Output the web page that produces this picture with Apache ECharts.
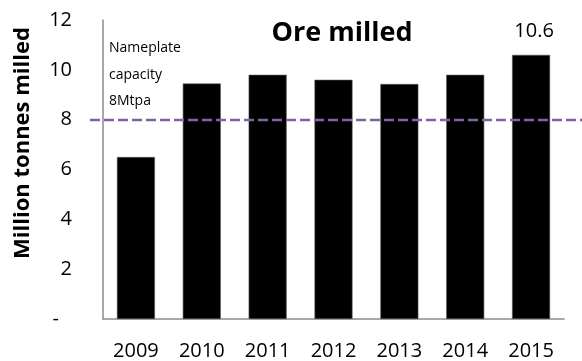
<!DOCTYPE html>
<html>
<head>
<meta charset="utf-8">
<script src="https://cdn.jsdelivr.net/npm/echarts@6/dist/echarts.min.js"></script>
<style>
  html, body { margin: 0; padding: 0; background: #fff; }
  #chart { width: 582px; height: 361px; }
</style>
</head>
<body>
<div id="chart"></div>
<script>
// Ore milled per year (million tonnes)
const years = ['2009', '2010', '2011', '2012', '2013', '2014', '2015'];
const oreMilled = [6.5, 9.45, 9.8, 9.6, 9.43, 9.8, 10.6];
const yTicks = [0, 2, 4, 6, 8, 10, 12];
const nameplateCapacity = 8;
const labelledYear = '2015';

const FONT = '"Open Sans", "Noto Sans", sans-serif';

const chart = echarts.init(document.getElementById('chart'), null, { renderer: 'canvas' });

const barData = oreMilled.map((v, i) => {
  const item = { value: v };
  if (years[i] === labelledYear) {
    item.label = {
      show: true,
      position: 'top',
      distance: 14,
      offset: [3, 0],
      formatter: (p) => p.value.toFixed(1),
      color: '#000',
      fontSize: 20,
      fontFamily: FONT
    };
  }
  return item;
});

chart.setOption({
  animation: false,
  title: {
    text: 'Ore milled',
    left: 342,
    top: 20,
    textAlign: 'center',
    padding: 0,
    textStyle: { fontFamily: FONT, fontWeight: 'bold', fontSize: 27, color: '#000' }
  },
  grid: [
    { left: 103, right: 18, top: 20, bottom: 41 },
    { left: 90, right: 0, top: 20, bottom: 41 }
  ],
  xAxis: [
    {
      type: 'category',
      gridIndex: 0,
      data: years,
      axisLine: { lineStyle: { color: '#8c8c8c', width: 1.5 } },
      axisTick: { show: false },
      axisLabel: { color: '#000', fontSize: 20, fontFamily: FONT, margin: 22 }
    },
    { type: 'value', gridIndex: 1, min: 0, max: 1, show: false }
  ],
  yAxis: [
    {
      type: 'value',
      gridIndex: 0,
      min: yTicks[0],
      max: yTicks[yTicks.length - 1],
      interval: yTicks[1] - yTicks[0],
      axisLine: { show: true, lineStyle: { color: '#8c8c8c', width: 1.5 } },
      axisTick: { show: false },
      splitLine: { show: false },
      axisLabel: {
        color: '#000',
        fontSize: 20,
        fontFamily: FONT,
        margin: 31,
        formatter: (v) => (v === 0 ? '{z|-}' : String(v)),
        rich: { z: { fontSize: 20, fontFamily: FONT, color: '#000', padding: [0, 13, 0, 0] } }
      }
    },
    {
      type: 'value', gridIndex: 1,
      min: yTicks[0], max: yTicks[yTicks.length - 1], show: false
    }
  ],
  series: [
    {
      type: 'bar',
      xAxisIndex: 0,
      yAxisIndex: 0,
      data: barData,
      barWidth: 38,
      itemStyle: { color: '#000', borderColor: '#555', borderWidth: 0.6 }
    },
    {
      // nameplate capacity reference line
      type: 'line',
      xAxisIndex: 1,
      yAxisIndex: 1,
      data: [[0, nameplateCapacity], [1, nameplateCapacity]],
      symbol: 'none',
      lineStyle: { color: '#8064A2', width: 2.5, type: [10, 4] },
      z: 5
    }
  ],
  graphic: [
    {
      type: 'text',
      x: 23,
      y: 143,
      rotation: Math.PI / 2,
      style: {
        text: 'Million tonnes milled',
        font: 'bold 22px ' + FONT,
        fill: '#000',
        align: 'center',
        verticalAlign: 'middle'
      }
    },
    {
      type: 'text',
      x: 109,
      y: 48,
      style: { text: 'Nameplate', font: '14px ' + FONT, fill: '#000', verticalAlign: 'middle' }
    },
    {
      type: 'text',
      x: 109,
      y: 75,
      style: { text: 'capacity', font: '14px ' + FONT, fill: '#000', verticalAlign: 'middle' }
    },
    {
      type: 'text',
      x: 109,
      y: 101,
      style: { text: '8Mtpa', font: '14px ' + FONT, fill: '#000', verticalAlign: 'middle' }
    }
  ]
});
</script>
</body>
</html>
